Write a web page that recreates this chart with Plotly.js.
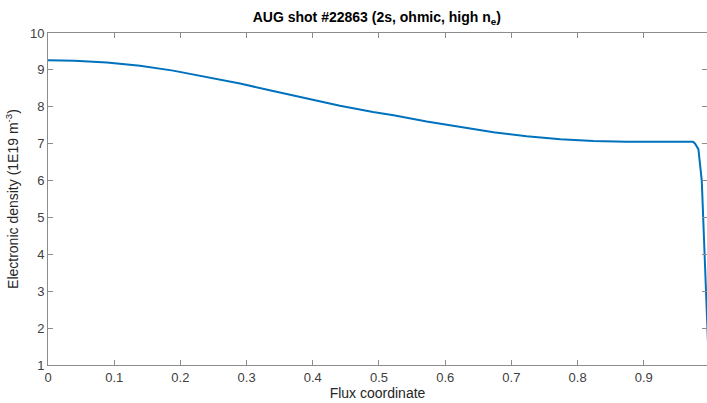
<!DOCTYPE html>
<html>
<head>
<meta charset="utf-8">
<script src="https://cdn.plot.ly/plotly-3.0.1.min.js"></script>
<style>html,body{margin:0;padding:0;overflow:hidden;background:#fff}</style>
</head>
<body>
<div id="chart" style="width:707px;height:403px"></div>
<script>
var fluxCoord = [0, 0.04, 0.089, 0.139, 0.189, 0.24, 0.29, 0.34, 0.391, 0.441, 0.491, 0.522, 0.572, 0.623, 0.673, 0.723, 0.774, 0.824, 0.874, 0.925, 0.9745, 0.9775, 0.9825, 0.9876, 0.9926, 0.9941, 0.997, 1.0];
var density   = [9.26, 9.25, 9.20, 9.11, 8.98, 8.81, 8.63, 8.43, 8.23, 8.03, 7.86, 7.77, 7.60, 7.45, 7.31, 7.20, 7.12, 7.07, 7.05, 7.05, 7.05, 7.00, 6.85, 6.0, 3.57, 2.94, 1.6, 1.2];
var xTickVals = [0, 0.1, 0.2, 0.3, 0.4, 0.5, 0.6, 0.7, 0.8, 0.9];
var xTickText = ['0', '0.1', '0.2', '0.3', '0.4', '0.5', '0.6', '0.7', '0.8', '0.9'];
var yTickVals = [1, 2, 3, 4, 5, 6, 7, 8, 9, 10];

var trace = {
  x: fluxCoord, y: density, type: 'scatter', mode: 'lines',
  line: {color: '#0072BD', width: 2, shape: 'linear'},
  hoverinfo: 'none', showlegend: false
};
var axisCommon = {
  showgrid: false, zeroline: false, showline: true, linecolor: '#8c8c8c', linewidth: 1,
  mirror: 'ticks', ticks: 'inside', ticklen: 5, tickcolor: '#8c8c8c', tickwidth: 1,
  tickfont: {family: 'Liberation Sans, Arial, sans-serif', size: 13, color: '#404040'}
};
var layout = {
  width: 707, height: 403,
  margin: {l: 48, r: 0, t: 33, b: 38, pad: 0},
  paper_bgcolor: '#ffffff', plot_bgcolor: '#ffffff',
  title: {
    text: '<b>AUG shot #22863 (2s, ohmic, high n<sub>e</sub>)</b>',
    font: {family: 'Liberation Sans, Arial, sans-serif', size: 14, color: '#000000'},
    x: 0.533, xanchor: 'center', y: 0.958, yanchor: 'middle'
  },
  xaxis: Object.assign({}, axisCommon, {
    range: [0, 0.9955], tickvals: xTickVals, ticktext: xTickText,
    title: {text: 'Flux coordinate', standoff: 4,
      font: {family: 'Liberation Sans, Arial, sans-serif', size: 14, color: '#262626'}}
  }),
  yaxis: Object.assign({}, axisCommon, {
    range: [1, 10], tickvals: yTickVals,
    title: {text: 'Electronic density (1E19 m<sup>-3</sup>)', standoff: 8,
      font: {family: 'Liberation Sans, Arial, sans-serif', size: 14, color: '#262626'}}
  })
};
Plotly.newPlot('chart', [trace], layout, {staticPlot: true, displayModeBar: false});
</script>
</body>
</html>
